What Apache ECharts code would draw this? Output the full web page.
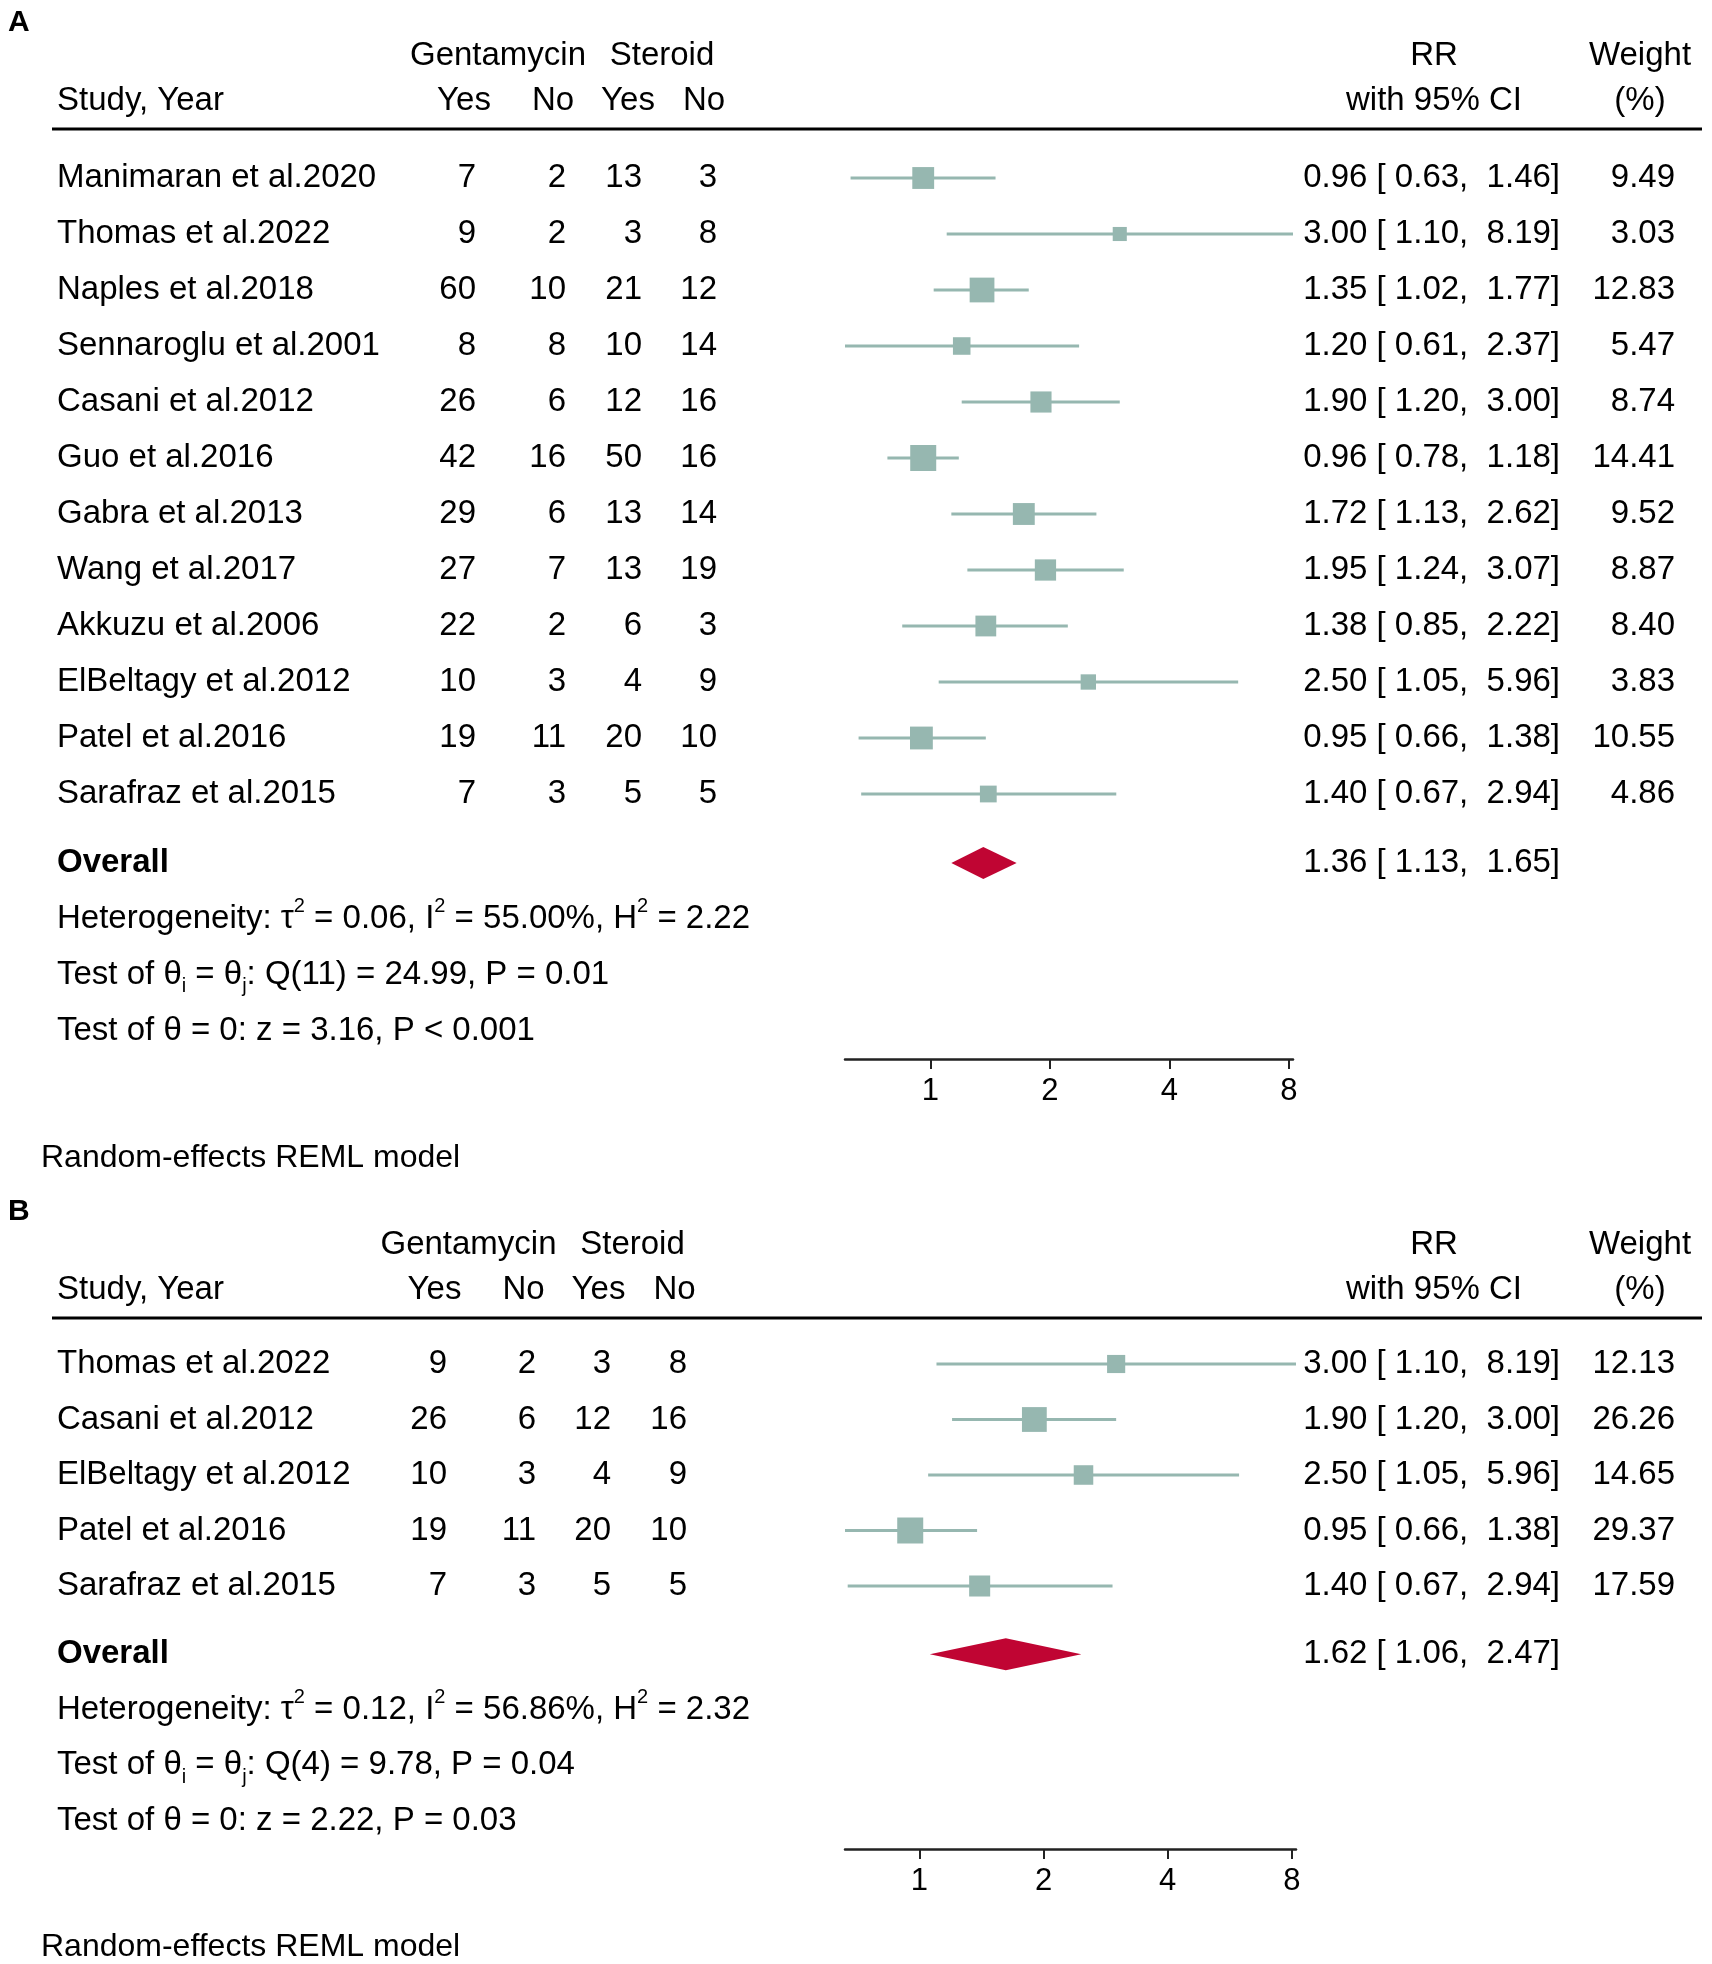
<!DOCTYPE html>
<html>
<head>
<meta charset="utf-8">
<title>Forest plot</title>
<script src="https://cdn.jsdelivr.net/npm/echarts@6/dist/echarts.min.js"></script>
<style>
html, body { margin: 0; padding: 0; background: #fff; }
#main { width: 1712px; height: 1964px; }
</style>
</head>
<body>
<div id="main"></div>
<script>
var myChart = echarts.init(document.getElementById('main'));

var FONT = '"Liberation Sans", Arial, Helvetica, sans-serif';
var MARK = '#96B7B0';
var DIAMOND = '#C00533';
var INK = '#000';

// panel A - all studies
var studiesA = ['Manimaran et al.2020', 'Thomas et al.2022', 'Naples et al.2018', 'Sennaroglu et al.2001',
    'Casani et al.2012', 'Guo et al.2016', 'Gabra et al.2013', 'Wang et al.2017', 'Akkuzu et al.2006',
    'ElBeltagy et al.2012', 'Patel et al.2016', 'Sarafraz et al.2015'];
var gentYesA = [7, 9, 60, 8, 26, 42, 29, 27, 22, 10, 19, 7];
var gentNoA = [2, 2, 10, 8, 6, 16, 6, 7, 2, 3, 11, 3];
var sterYesA = [13, 3, 21, 10, 12, 50, 13, 13, 6, 4, 20, 5];
var sterNoA = [3, 8, 12, 14, 16, 16, 14, 19, 3, 9, 10, 5];
var rrA = [0.96, 3.00, 1.35, 1.20, 1.90, 0.96, 1.72, 1.95, 1.38, 2.50, 0.95, 1.40];
var lowA = [0.63, 1.10, 1.02, 0.61, 1.20, 0.78, 1.13, 1.24, 0.85, 1.05, 0.66, 0.67];
var highA = [1.46, 8.19, 1.77, 2.37, 3.00, 1.18, 2.62, 3.07, 2.22, 5.96, 1.38, 2.94];
var weightA = [9.49, 3.03, 12.83, 5.47, 8.74, 14.41, 9.52, 8.87, 8.40, 3.83, 10.55, 4.86];
var overallA = [1.36, 1.13, 1.65];
var hetA = ['0.06', '55.00%', '2.22'];
var testA = ['11', '24.99', '0.01', '3.16', '< 0.001'];

// panel B - subset
var studiesB = ['Thomas et al.2022', 'Casani et al.2012', 'ElBeltagy et al.2012', 'Patel et al.2016', 'Sarafraz et al.2015'];
var gentYesB = [9, 26, 10, 19, 7];
var gentNoB = [2, 6, 3, 11, 3];
var sterYesB = [3, 12, 4, 20, 5];
var sterNoB = [8, 16, 9, 10, 5];
var rrB = [3.00, 1.90, 2.50, 0.95, 1.40];
var lowB = [1.10, 1.20, 1.05, 0.66, 0.67];
var highB = [8.19, 3.00, 5.96, 1.38, 2.94];
var weightB = [12.13, 26.26, 14.65, 29.37, 17.59];
var overallB = [1.62, 1.06, 2.47];
var hetB = ['0.12', '56.86%', '2.32'];
var testB = ['4', '9.78', '0.04', '2.22', '= 0.03'];

var ticks = [1, 2, 4, 8];

var panelA = {
    grid: 0, names: studiesA, counts: [gentYesA, gentNoA, sterYesA, sterNoA],
    rr: rrA, low: lowA, high: highA, weight: weightA, overall: overallA, het: hetA, test: testA,
    colX: [476, 566, 642, 717]
};
var panelB = {
    grid: 1, names: studiesB, counts: [gentYesB, gentNoB, sterYesB, sterNoB],
    rr: rrB, low: lowB, high: highB, weight: weightB, overall: overallB, het: hetB, test: testB,
    colX: [447, 536, 611, 687]
};

function txt(x, y, s, align, weight, size) {
    return {
        type: 'text', x: x, y: y,
        style: {
            text: s, fill: INK, fontSize: size || 33, fontFamily: FONT, fontWeight: weight || 'normal',
            align: align || 'left', verticalAlign: 'middle'
        }
    };
}

var richStyle = {
    t: {fontSize: 33, fontFamily: FONT, fill: INK, lineHeight: 44},
    p: {fontSize: 20, fontFamily: FONT, fill: INK, lineHeight: 18, verticalAlign: 'top'},
    b: {fontSize: 20, fontFamily: FONT, fill: INK, lineHeight: 14, verticalAlign: 'bottom'}
};

function richTxt(x, y, s) {
    return {
        type: 'text', x: x, y: y,
        style: {text: s, rich: richStyle, fill: INK, fontSize: 33, fontFamily: FONT, align: 'left', verticalAlign: 'middle'}
    };
}

function ci(r, l, h) {
    return r.toFixed(2) + ' [ ' + l.toFixed(2) + ',  ' + h.toFixed(2) + ']';
}

function studySeries(p) {
    var wmax = Math.max.apply(null, p.weight);
    return {
        type: 'custom',
        xAxisIndex: p.grid,
        yAxisIndex: p.grid,
        clip: false,
        silent: true,
        encode: {x: 0, y: 1},
        data: p.rr.map(function (v, i) { return [v, i]; }),
        renderItem: function (params, api) {
            var i = params.dataIndex;
            var c = api.coord([p.rr[i], i]);
            var a = api.coord([p.low[i], i]);
            var b = api.coord([p.high[i], i]);
            var y = c[1];
            var s = 4 + 22 * Math.sqrt(p.weight[i] / wmax);
            var kids = [
                {type: 'line', shape: {x1: a[0], y1: y, x2: b[0], y2: y}, style: {stroke: MARK, lineWidth: 3}},
                {type: 'rect', shape: {x: c[0] - s / 2, y: y - s / 2, width: s, height: s}, style: {fill: MARK}},
                txt(57, y, p.names[i], 'left')
            ];
            p.counts.forEach(function (col, k) {
                kids.push(txt(p.colX[k], y, String(col[i]), 'right'));
            });
            kids.push(txt(1560, y, ci(p.rr[i], p.low[i], p.high[i]), 'right'));
            kids.push(txt(1675, y, p.weight[i].toFixed(2), 'right'));
            return {type: 'group', children: kids};
        }
    };
}

function overallSeries(p) {
    var row = p.names.length + 0.23;
    var t = p.test;
    var line1 = '{t|Heterogeneity: τ}{p|2}{t| = ' + p.het[0] + ', I}{p|2}{t| = ' + p.het[1] + ', H}{p|2}{t| = ' + p.het[2] + '}';
    var line2 = '{t|Test of θ}{b|i}{t| = θ}{b|j}{t|: Q(' + t[0] + ') = ' + t[1] + ', P = ' + t[2] + '}';
    var line3 = '{t|Test of θ = 0: z = ' + t[3] + ', P ' + t[4] + '}';
    return {
        type: 'custom',
        xAxisIndex: p.grid,
        yAxisIndex: p.grid,
        clip: false,
        silent: true,
        encode: {x: 0, y: 1},
        data: [[p.overall[0], row]],
        renderItem: function (params, api) {
            var c = api.coord([p.overall[0], row]);
            var l = api.coord([p.overall[1], row]);
            var h = api.coord([p.overall[2], row]);
            var y = c[1];
            var step = api.coord([1, row + 1])[1] - y;
            return {
                type: 'group',
                children: [
                    {type: 'polygon', shape: {points: [[l[0], y], [c[0], y - 16], [h[0], y], [c[0], y + 16]]}, style: {fill: DIAMOND}},
                    txt(57, y, 'Overall', 'left', 'bold'),
                    txt(1560, y, ci(p.overall[0], p.overall[1], p.overall[2]), 'right'),
                    richTxt(57, y + step, line1),
                    richTxt(57, y + 2 * step, line2),
                    richTxt(57, y + 3 * step, line3)
                ]
            };
        }
    };
}

function xAxisFor(p) {
    return {
        type: 'log',
        logBase: 2,
        gridIndex: p.grid,
        min: Math.min.apply(null, p.low),
        max: Math.max.apply(null, p.high),
        position: 'bottom',
        axisLine: {show: true, onZero: false, lineStyle: {color: '#222', width: 2.5}},
        axisTick: {show: true, length: 10, lineStyle: {color: '#222', width: 2}, customValues: ticks},
        axisLabel: {show: true, customValues: ticks, fontSize: 31, color: INK, fontFamily: FONT, margin: 17},
        splitLine: {show: false},
        minorTick: {show: false}
    };
}

// header of one panel
function header(letter, top, shift) {
    var y1 = top, y2 = top + 45;
    return [
        {type: 'text', left: 8, top: top - 48, style: {text: letter, fontSize: 30, fontWeight: 'bold', fontFamily: FONT, fill: INK}},
        txtG(498 - shift, y1, 'Gentamycin', 'center'),
        txtG(662 - shift, y1, 'Steroid', 'center'),
        txtG(1434, y1, 'RR', 'center'),
        txtG(1640, y1, 'Weight', 'center'),
        txtG(57, y2, 'Study, Year', 'left'),
        txtG(464 - shift, y2, 'Yes', 'center'),
        txtG(553 - shift, y2, 'No', 'center'),
        txtG(628 - shift, y2, 'Yes', 'center'),
        txtG(704 - shift, y2, 'No', 'center'),
        txtG(1434, y2, 'with 95% CI', 'center'),
        txtG(1640, y2, '(%)', 'center'),
        {type: 'line', shape: {x1: 52, y1: top + 73, x2: 1702, y2: top + 73}, style: {stroke: INK, lineWidth: 3}}
    ];
}

function txtG(x, y, s, align, size) {
    return {
        type: 'text', x: x, y: y,
        style: {text: s, fill: INK, fontSize: size || 33, fontFamily: FONT, textAlign: align, textVerticalAlign: 'middle'}
    };
}

var graphics = header('A', 56, 0)
    .concat(header('B', 1245, 29.5))
    .concat([
        txtG(41, 1158, 'Random-effects REML model', 'left', 32),
        txtG(41, 1947, 'Random-effects REML model', 'left', 32)
    ]);

var option = {
    backgroundColor: '#fff',
    animation: false,
    textStyle: {fontFamily: FONT},
    grid: [
        {left: 845, width: 448, top: 178, height: 881},
        {left: 845, width: 451, top: 1364, height: 485}
    ],
    xAxis: [xAxisFor(panelA), xAxisFor(panelB)],
    yAxis: [
        {type: 'value', gridIndex: 0, inverse: true, min: 0, max: 881 / 56, show: false},
        {type: 'value', gridIndex: 1, inverse: true, min: 0, max: 485 / 55.5, show: false}
    ],
    graphic: graphics,
    series: [studySeries(panelA), overallSeries(panelA), studySeries(panelB), overallSeries(panelB)]
};

myChart.setOption(option);
</script>
</body>
</html>
